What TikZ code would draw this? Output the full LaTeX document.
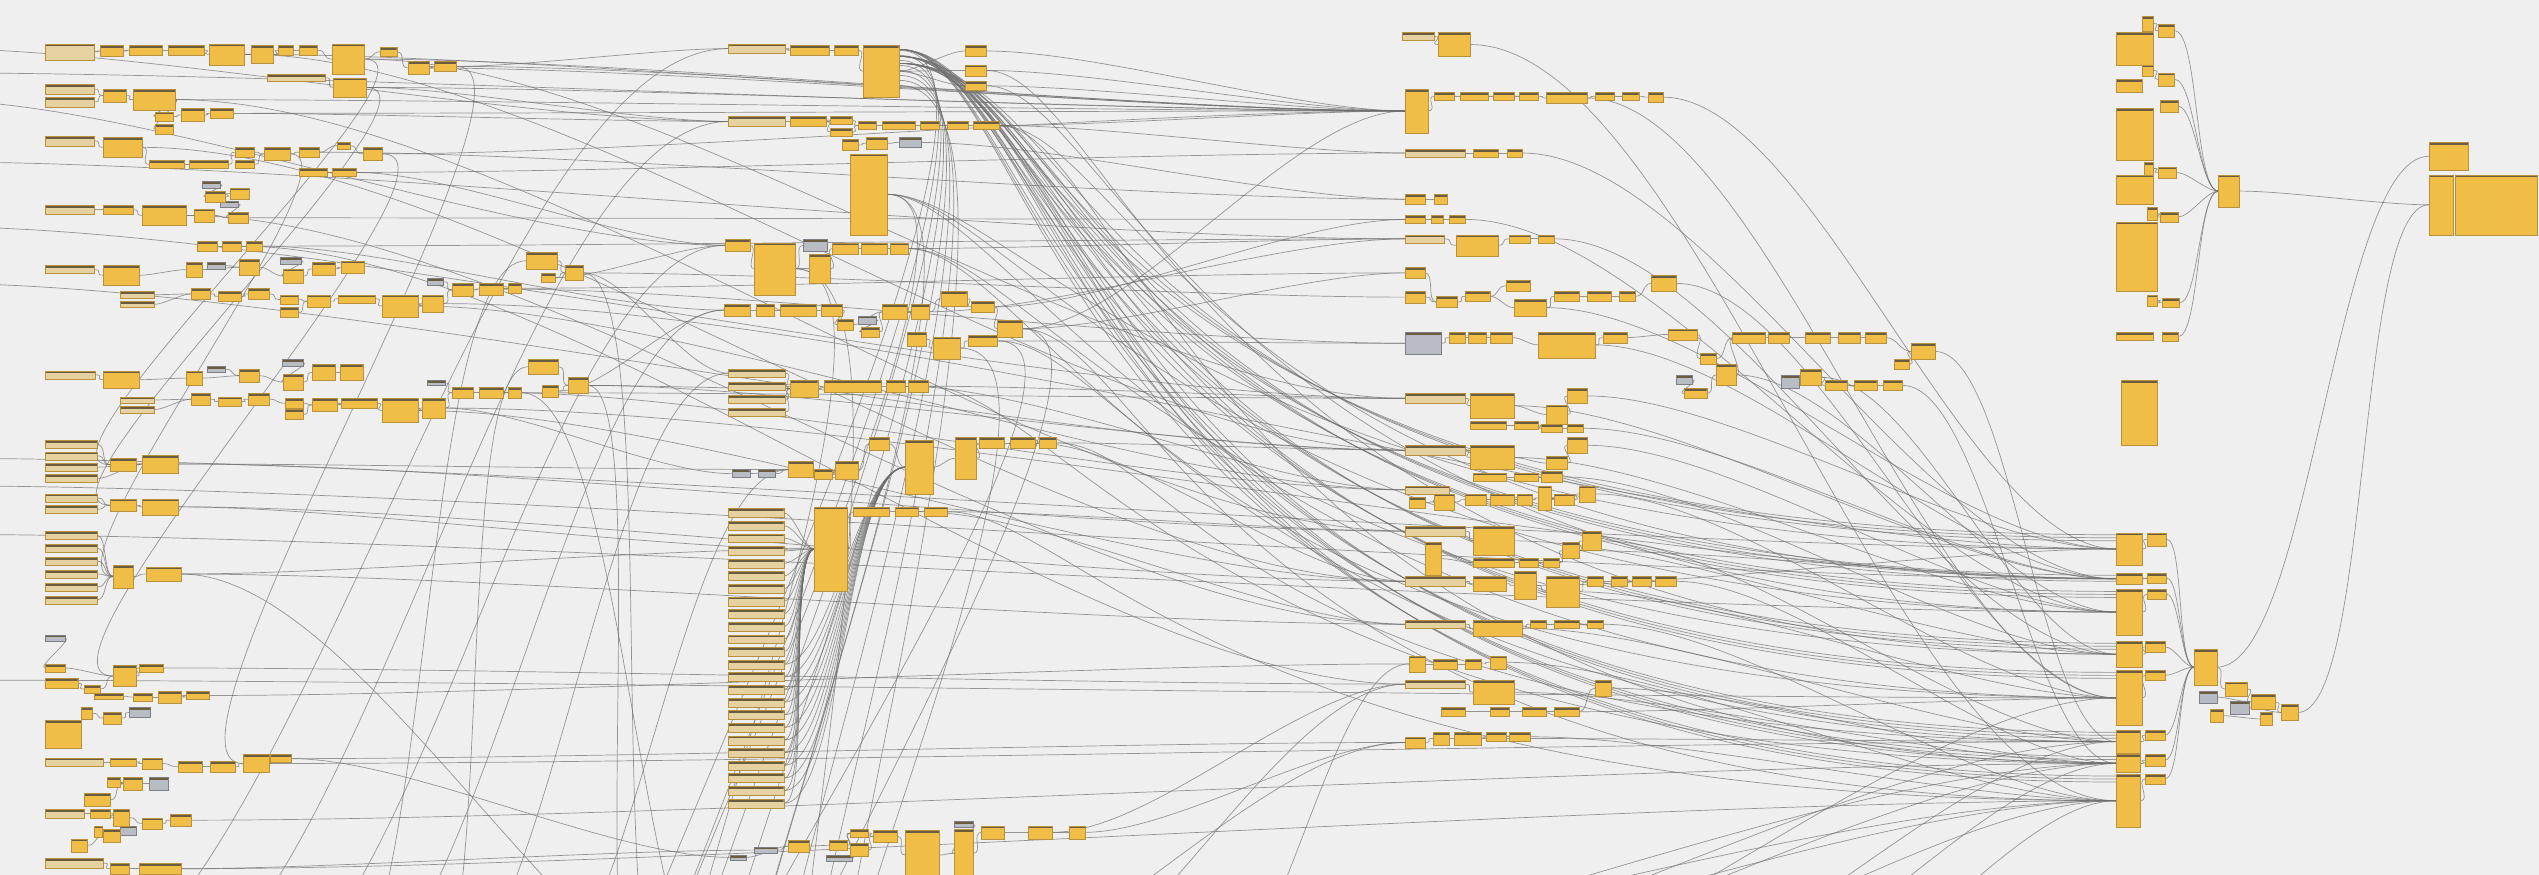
\documentclass[tikz,border=0pt]{standalone}
\usetikzlibrary{backgrounds,calc}
\definecolor{canvas}{HTML}{EFEFEF}
\definecolor{nodefill}{HTML}{F0BE46}
\definecolor{nodehead}{HTML}{695C41}
\definecolor{nodeedge}{HTML}{B8913A}
\definecolor{inpfill}{HTML}{E6D2A0}
\definecolor{gryfill}{HTML}{B9BCC3}
\definecolor{gryedge}{HTML}{7C7F86}
\definecolor{wirecol}{HTML}{6E6E6E}
\tikzset{
  dyn/.style={draw=nodeedge, fill=nodefill, line width=0.4pt, inner sep=0pt, outer sep=0pt, anchor=north west,
    path picture={\fill[nodehead] (path picture bounding box.north west) rectangle ([yshift=-2.6pt]path picture bounding box.north east);}},
  inp/.style={dyn, fill=inpfill},
  gry/.style={dyn, fill=gryfill, draw=gryedge},
  wire/.style={draw=wirecol, line width=0.7pt, opacity=0.7},
  link/.style={to path={let \p1=(\tikztostart), \p2=(\tikztotarget), \n1={max(10,0.25*abs(\x2-\x1)+0.08*abs(\y2-\y1))} in .. controls +(\n1,0) and +(-\n1,0) .. (\tikztotarget)}}
}
\begin{document}
\begin{tikzpicture}[x=1.619pt, y=-1.619pt]
\useasboundingbox (0,0) rectangle (1568,540);

% left block
\foreach \n/\x/\y/\w/\h in {a1/28/27/30/10, a13/165/46/36/4, a15/28/52/30/6, a16/28/60/30/6, a23/28/84/30/6, a38/28/127/30/5,
  a47/28/164/30/5, a49/74/180/21/4, a50/74/186/21/4, a74/28/229/31/5, a76/74/245/21/4, a77/74/251/21/4,
  a101/28/272/32/5, a102/28/279/32/5, a103/28/286/32/5, a104/28/293/32/5, a107/28/305/32/5, a108/28/312/32/5,
  a111/28/328/32/5, a112/28/336/32/5, a113/28/344/32/5, a114/28/352/32/5, a115/28/360/32/5, a116/28/368/32/5,
  a133/28/468/36/5, a144/28/500/24/5, a153/28/530/36/6}
  \node[inp, minimum width=\w*1.619pt, minimum height=\h*1.619pt] (\n) at (\x,\y) {};
\foreach \n/\x/\y/\w/\h in {a35/125/112/11/4, a42/136/124/11/4, a51/173/159/13/4, a61/264/172/10/4, a69/128/162/11/4,
  a78/174/222/13/4, a88/264/235/11/3, a96/128/226/11/4, a119/28/392/12/4, a131/80/437/13/6, a142/92/480/12/8, a151/74/510/10/6}
  \node[gry, minimum width=\w*1.619pt, minimum height=\h*1.619pt] (\n) at (\x,\y) {};
\foreach \n/\x/\y/\w/\h in {a2/62/28/14/7, a3/80/28/20/6, a4/104/28/22/6, a5/129/27/22/13, a6/155/28/14/11, a7/172/28/9/6,
  a8/185/28/11/6, a9/205/27/20/19, a10/235/29/10/6, a11/252/38/13/8, a12/268/38/14/6, a14/206/48/20/12,
  a17/64/55/14/8, a18/82/55/26/13, a19/96/69/11/6, a20/96/77/11/6, a21/112/67/14/8, a22/130/67/14/6,
  a24/64/85/24/12, a25/92/99/22/5, a26/117/99/24/5, a27/145/91/12/6, a28/145/99/12/5, a29/163/91/16/8,
  a30/185/91/12/6, a31/208/88/8/4, a32/224/91/12/8, a33/185/104/17/5, a34/205/104/15/5, a36/127/118/12/7,
  a37/142/116/12/7, a39/64/127/18/5, a40/88/127/27/12, a41/120/129/12/8, a43/141/131/12/7, a44/122/149/12/6,
  a45/137/149/12/6, a46/152/149/10/6, a48/64/164/22/12, a52/175/166/12/9, a53/193/162/14/8, a54/211/161/14/8,
  a55/173/182/11/6, a56/173/190/11/6, a57/190/182/14/8, a58/209/182/23/5, a59/236/182/22/14, a60/261/182/13/11,
  a62/279/175/13/8, a63/296/175/15/7, a64/314/175/8/6, a65/325/156/19/10, a66/334/169/9/5, a67/349/164/11/9,
  a68/115/162/10/9, a70/148/160/12/10, a71/118/178/12/7, a72/135/180/14/6, a73/153/178/13/7,
  a75/64/229/22/11, a79/175/231/12/10, a80/193/225/14/10, a81/210/225/14/10, a82/176/246/11/6, a83/176/253/11/6,
  a84/193/246/15/8, a85/211/246/22/6, a86/236/246/22/15, a87/261/246/14/12, a89/279/239/13/7, a90/296/239/15/7,
  a91/314/239/8/7, a92/326/222/19/9, a93/335/238/10/7, a94/351/233/12/10, a95/115/229/10/9, a97/148/228/12/8,
  a98/118/243/12/7, a99/135/245/14/6, a100/153/243/13/7, a105/68/283/16/8, a106/88/281/22/11,
  a109/68/308/16/8, a110/88/308/22/10, a117/70/349/12/14, a118/90/350/22/9,
  a120/28/410/12/5, a121/28/419/20/6, a122/52/423/10/5, a123/70/411/14/13, a124/86/410/15/5,
  a125/58/428/18/4, a126/82/428/12/5, a127/98/427/14/7, a128/115/427/14/5, a129/50/437/7/7, a130/64/440/11/7,
  a132/28/445/22/17, a134/68/468/16/5, a135/88/468/12/7, a136/110/470/15/7, a137/130/470/15/7, a138/150/466/16/11,
  a139/167/466/13/5, a140/66/480/8/6, a141/76/480/12/8, a143/52/490/16/8, a145/56/500/12/5, a146/70/500/10/10,
  a147/88/505/12/7, a148/105/503/13/7, a149/58/510/5/7, a150/64/512/10/8, a152/44/518/10/8, a154/68/533/12/7,
  a155/86/533/26/7}
  \node[dyn, minimum width=\w*1.619pt, minimum height=\h*1.619pt] (\n) at (\x,\y) {};

% centre block
\foreach \n/\x/\y/\w/\h in {b1/450/27/35/6, b8/450/72/35/6, b43/450/228/35/5, b44/450/236/35/5, b45/450/244/35/5, b46/450/252/35/5}
  \node[inp, minimum width=\w*1.619pt, minimum height=\h*1.619pt] (\n) at (\x,\y) {};
\foreach \i in {0,...,23}
  \node[inp, minimum width=34*1.619pt, minimum height=5.5*1.619pt] (q\i) at (450,{314+\i*7.8}) {};
\foreach \n/\x/\y/\w/\h in {b19/555/85/14/6, b23/496/148/15/7, b33/530/195/11/5, b51/452/290/11/5, b52/468/290/11/5,
  b68/451/528/10/3, b69/466/523/14/4, b72/510/528/16/4, b77/589/507/12/4}
  \node[gry, minimum width=\w*1.619pt, minimum height=\h*1.619pt] (\n) at (\x,\y) {};
\foreach \n/\x/\y/\w/\h in {b2/488/28/24/6, b3/515/28/15/6, b4/533/28/22/32, b5/596/28/13/7, b6/596/40/13/7, b7/596/50/13/6,
  b9/488/72/22/6, b10/513/72/13/5, b11/513/79/13/5, b12/530/75/11/5, b13/545/75/20/5, b14/568/75/12/5,
  b15/585/75/13/5, b16/601/75/16/5, b17/520/86/10/7, b18/535/85/13/7, b20/525/95/23/50, b21/448/148/15/7,
  b22/466/150/25/32, b24/500/157/13/18, b25/514/150/16/7, b26/532/150/16/7, b27/550/150/11/7, b28/447/188/16/7,
  b29/467/188/11/7, b30/482/188/22/7, b31/507/188/13/7, b32/517/197/10/7, b34/532/202/11/6, b35/545/188/15/9,
  b36/563/188/11/9, b37/581/180/16/9, b38/600/186/14/7, b39/616/198/15/10, b40/560/205/12/9, b41/576/208/17/14,
  b42/598/207/18/7, b47/488/235/17/10, b48/509/235/35/7, b49/547/235/12/7, b50/561/235/12/7, b53/487/285/15/10,
  b54/503/290/11/6, b55/516/285/14/11, b56/537/270/12/8, b57/559/272/17/33, b58/590/270/13/26, b60/605/270/15/7,
  b61/624/270/15/7, b62/642/270/10/7, b63/503/313/20/52, b65/527/313/22/6, b66/553/313/14/6, b67/571/313/14/6,
  b70/487/519/13/7, b71/512/519/11/6, b73/525/512/11/5, b74/525/521/11/8, b75/539/513/15/7, b76/559/513/21/30,
  b78/589/512/12/30, b79/606/510/14/8, b80/635/510/15/8, b81/660/510/10/8}
  \node[dyn, minimum width=\w*1.619pt, minimum height=\h*1.619pt] (\n) at (\x,\y) {};

% right-centre block
\foreach \n/\x/\y/\w/\h in {c1/866/20/20/5, c12/868/92/37/5, c20/868/145/24/5, c57/868/243/37/6, c65/868/275/37/6,
  c72/868/300/27/5, c81/868/325/37/6, c89/868/356/37/6, c97/868/383/37/5, c106/868/420/37/5}
  \node[inp, minimum width=\w*1.619pt, minimum height=\h*1.619pt] (\n) at (\x,\y) {};
\foreach \n/\x/\y/\w/\h in {c34/868/205/22/14, c42/1035/232/10/5, c52/1100/232/11/8}
  \node[gry, minimum width=\w*1.619pt, minimum height=\h*1.619pt] (\n) at (\x,\y) {};
\foreach \n/\x/\y/\w/\h in {c2/888/20/20/15, c3/868/55/14/27, c4/886/57/12/5, c5/902/57/17/5, c6/922/57/13/5, c7/938/57/12/5,
  c8/955/57/25/7, c9/985/57/12/5, c10/1002/57/10/5, c11/1018/57/9/6, c13/910/92/15/5, c14/931/92/9/5,
  c15/868/120/12/6, c16/886/120/8/6, c17/868/133/12/5, c18/884/133/7/5, c19/895/133/10/5, c21/899/145/26/13,
  c22/932/145/13/5, c23/950/145/10/5, c24/868/165/12/7, c25/868/180/12/7, c26/887/183/13/7, c27/905/180/15/6,
  c28/930/173/15/7, c29/935/185/20/10, c30/960/180/15/6, c31/980/180/15/6, c32/1000/180/10/6, c33/1020/170/15/10,
  c35/895/205/10/7, c36/907/205/11/7, c37/920/205/14/7, c38/950/205/35/16, c39/990/205/15/7, c40/1030/203/18/7,
  c41/1050/218/10/7, c43/1040/240/14/6, c44/1060/225/12/13, c45/1070/205/20/7, c46/1092/205/13/7, c47/1115/205/15/7,
  c48/1135/205/14/7, c49/1152/205/13/7, c50/1180/212/15/10, c51/1170/222/9/6, c53/1112/228/13/10, c54/1127/235/14/6,
  c55/1145/235/14/6, c56/1163/235/12/6, c58/908/243/27/15, c59/955/250/13/12, c60/968/240/12/9, c61/908/260/22/5,
  c62/935/260/15/5, c63/952/262/13/5, c64/968/262/10/5, c66/908/275/27/15, c67/955/282/13/8, c68/968/270/12/10,
  c69/910/292/20/5, c70/935/292/15/5, c71/952/291/13/7, c73/870/307/10/7, c74/886/305/12/10, c75/905/305/13/7,
  c76/920/305/15/7, c77/937/305/9/7, c78/950/300/8/15, c79/960/305/12/7, c80/975/300/10/10, c82/910/325/25/18,
  c83/880/335/10/20, c84/910/345/25/5, c85/938/345/12/5, c86/953/345/10/5, c87/965/335/10/10, c88/977/328/12/12,
  c90/910/356/20/9, c91/935/353/14/17, c92/955/356/20/19, c93/980/356/10/6, c94/995/356/10/6, c95/1008/356/12/6,
  c96/1022/356/13/6, c98/910/383/30/10, c99/945/383/10/5, c100/960/383/15/5, c101/980/383/10/5, c102/870/405/10/10,
  c103/885/407/15/6, c104/905/407/10/6, c105/920/405/10/8, c107/910/420/25/15, c108/890/437/15/5, c109/920/437/12/5,
  c110/940/437/15/5, c111/960/437/15/5, c112/985/420/10/10, c113/868/455/12/7, c114/885/452/10/8, c115/898/452/17/8,
  c116/918/452/12/6, c117/932/452/13/6}
  \node[dyn, minimum width=\w*1.619pt, minimum height=\h*1.619pt] (\n) at (\x,\y) {};

% right block
\foreach \n/\x/\y/\w/\h in {d1/1323/10/7/9, d2/1333/15/10/8, d3/1307/20/23/20, d4/1323/40/7/7, d5/1333/45/10/8,
  d6/1307/49/16/8, d7/1334/62/11/7, d8/1307/67/23/32, d9/1324/100/6/8, d10/1333/103/11/7, d11/1307/108/23/18,
  d12/1326/128/6/8, d13/1334/131/11/6, d14/1307/137/25/43, d15/1326/182/6/7, d16/1335/184/11/6, d17/1307/205/23/5,
  d18/1335/205/10/6, d19/1310/235/22/40, d20/1370/108/13/20, d21/1500/88/24/17, d22/1500/108/15/37, d23/1516/108/51/37,
  e1/1307/329/16/20, e2/1326/329/12/8, e3/1307/354/16/7, e4/1326/354/12/6, e5/1307/364/16/28, e6/1326/364/12/6,
  e7/1307/396/16/16, e8/1325/396/12/7, e9/1307/414/16/34, e10/1325/414/12/6, e11/1307/451/15/14, e12/1325/451/12/6,
  e13/1307/466/15/11, e14/1325/466/12/7, e15/1307/478/15/33, e16/1325/478/12/6, e17/1355/401/14/22, e18/1374/421/14/9,
  e21/1390/429/15/9, e22/1365/438/8/8, e23/1396/440/7/8, e24/1409/435/10/10}
  \node[dyn, minimum width=\w*1.619pt, minimum height=\h*1.619pt] (\n) at (\x,\y) {};
\foreach \n/\x/\y/\w/\h in {e19/1358/427/11/7, e20/1377/433/12/8}
  \node[gry, minimum width=\w*1.619pt, minimum height=\h*1.619pt] (\n) at (\x,\y) {};

% loose wire ends off the page
\foreach \k/\x in {1/380,2/400,3/420,4/440,5/460,6/480,7/500,8/520}
  \coordinate (zb\k) at (\x,640);
\foreach \k/\x in {1/560,2/620,3/680,4/740,5/800,6/860,7/920,8/980,9/1040,10/1100}
  \coordinate (zr\k) at (\x,620);
\foreach \k/\x in {1/20,2/80,3/140,4/200,5/260,6/320}
  \coordinate (zl\k) at (\x,620);
\foreach \k/\y in {1/30,2/45,3/62,4/100,5/140,6/175,7/283,8/300,9/330,10/420}
  \coordinate (zw\k) at (-40,\y);

\begin{scope}[on background layer]
\fill[canvas] (-10,-10) rectangle (1580,560);

% short links inside each row
\foreach \s/\t in {a1/a2,a2/a3,a3/a4,a4/a5,a5/a6,a6/a7,a7/a8,a8/a9,a9/a10,a10/a11,a11/a12,a13/a14,a15/a17,a16/a17,a17/a18,
  a18/a19,a18/a20,a19/a21,a21/a22,a23/a24,a24/a25,a25/a26,a26/a27,a27/a29,a28/a29,a29/a30,a30/a31,a31/a32,a33/a34,
  a35/a36,a36/a37,a38/a39,a39/a40,a40/a41,a41/a43,a42/a43,a44/a45,a45/a46,a47/a48,a49/a71,a50/a71,a48/a68,a68/a70,
  a69/a70,a70/a52,a51/a52,a52/a53,a53/a54,a71/a72,a72/a73,a73/a55,a55/a57,a56/a57,a57/a58,a58/a59,a59/a60,a61/a62,
  a60/a62,a62/a63,a63/a64,a65/a67,a66/a67,a74/a75,a75/a95,a96/a97,a95/a97,a97/a79,a78/a79,a79/a80,a80/a81,a76/a98,
  a77/a98,a98/a99,a99/a100,a100/a82,a82/a84,a83/a84,a84/a85,a85/a86,a86/a87,a88/a89,a87/a89,a89/a90,a90/a91,a92/a94,
  a93/a94,a101/a105,a102/a105,a103/a106,a104/a106,a105/a106,a107/a109,a108/a109,a109/a110,a111/a117,a112/a117,
  a113/a117,a114/a117,a115/a117,a116/a117,a117/a118,a119/a120,a120/a123,a121/a122,a122/a123,a123/a124,a125/a126,
  a126/a127,a127/a128,a129/a130,a130/a131,a133/a134,a134/a135,a135/a136,a136/a137,a137/a138,a138/a139,a140/a141,
  a141/a142,a143/a141,a144/a145,a145/a146,a146/a147,a147/a148,a149/a150,a150/a151,a152/a150,a153/a154,a154/a155,
  b1/b2,b2/b3,b3/b4,b4/b5,b4/b6,b4/b7,b8/b9,b9/b10,b9/b11,b10/b12,b11/b12,b12/b13,b13/b14,b14/b15,b15/b16,b17/b18,
  b18/b19,b21/b22,b22/b23,b22/b24,b24/b25,b25/b26,b26/b27,b28/b29,b29/b30,b30/b31,b31/b32,b32/b35,b33/b34,b34/b35,
  b35/b36,b36/b37,b37/b38,b38/b39,b40/b41,b41/b42,b43/b47,b44/b47,b45/b47,b46/b47,b47/b48,b48/b49,b49/b50,b51/b53,
  b52/b53,b53/b54,b54/b55,b55/b56,b56/b57,b57/b58,b58/b60,b60/b61,b61/b62,b63/b65,b65/b66,b66/b67,b68/b70,b69/b70,
  b70/b71,b72/b73,b71/b73,b73/b75,b74/b75,b75/b76,b76/b78,b77/b78,b78/b79,b79/b80,b80/b81,
  c1/c2,c3/c4,c4/c5,c5/c6,c6/c7,c7/c8,c8/c9,c9/c10,c10/c11,c12/c13,c13/c14,c15/c16,c17/c18,c18/c19,c20/c21,c21/c22,
  c22/c23,c24/c26,c25/c26,c26/c27,c27/c28,c27/c29,c29/c30,c30/c31,c31/c32,c32/c33,c34/c35,c35/c36,c36/c37,c37/c38,
  c38/c39,c39/c40,c40/c41,c42/c43,c43/c44,c41/c45,c44/c45,c45/c46,c46/c47,c47/c48,c48/c49,c49/c50,c51/c50,c52/c53,
  c53/c54,c54/c55,c55/c56,c57/c58,c58/c59,c59/c60,c61/c62,c62/c63,c63/c64,c65/c66,c66/c67,c67/c68,c69/c70,c70/c71,
  c72/c74,c73/c74,c74/c75,c75/c76,c76/c77,c77/c78,c78/c79,c79/c80,c81/c82,c83/c84,c84/c85,c85/c86,c86/c87,c87/c88,
  c89/c90,c90/c91,c91/c92,c92/c93,c93/c94,c94/c95,c95/c96,c97/c98,c98/c99,c99/c100,c100/c101,c102/c103,c103/c104,
  c104/c105,c106/c107,c108/c109,c109/c110,c110/c111,c111/c112,c113/c114,c114/c115,c115/c116,c116/c117,
  d1/d2,d4/d5,d9/d10,d12/d13,d15/d16,d2/d20,d5/d20,d7/d20,d10/d20,d13/d20,d16/d20,d18/d20,d20/d22,
  e1/e2,e3/e4,e5/e6,e7/e8,e9/e10,e11/e12,e13/e14,e15/e16,e2/e17,e4/e17,e6/e17,e8/e17,e10/e17,e12/e17,e14/e17,
  e16/e17,e17/e18,e18/e21,e19/e21,e20/e24,e21/e24,e22/e23,e17/d21,e24/d22}
  \draw[wire] (\s.east) to[link] (\t.west);

% long links across the sheet
\foreach \s/\t in {a12/c3,a14/c3,a11/c3,a22/c3,a32/c3,a9/c3,a5/c3,a18/c3,a34/c12,a30/c15,a43/c17,a46/c20,a64/c24,
  a67/c25,a91/c57,a94/c65,a63/c34,a90/c72,a106/c81,a110/c89,a118/c97,a124/c106,a139/c113,a128/c102,a9/c57,a5/c65,
  a18/c81,a24/c89,a40/c97,a45/c106,a59/c72,a86/c89,a60/e1,a87/e3,a155/e15,a148/e13,a138/e11,
  a12/b1,a14/b8,a22/b8,a34/b21,a46/b28,a67/b43,a94/b47,a87/b51,a106/b53,a110/b63,a118/b63,a139/b68,a155/b69,
  a66/b21,a93/b28,a9/a105,a14/a109,a29/a117,a32/a123,a12/a138,a94/zb2,a67/zb3,a91/zb5,a118/zb6,
  b7/c3,b6/c3,b5/c3,b16/c3,b16/c12,b19/c15,b27/c20,b39/c24,b42/c34,b50/c57,b62/c65,b67/c81,b81/c113,b39/c3,b38/c17,
  b36/c20,b49/c72,b61/c89,b66/c97,b80/c106,
  c11/e1,c14/e3,c19/e5,c23/e7,c33/e9,c50/e11,c56/e13,c60/e1,c64/e3,c68/e5,c71/e7,c80/e9,c88/e11,c96/e13,c101/e15,
  c105/e15,c112/e13,c117/e15,c58/e3,c66/e5,c82/e7,c92/e9,c98/e11,c107/e13,c2/e15,c8/e9,c29/e1,c38/e3,c44/e5,c53/e7,
  c91/e1,c87/e3,c111/e9,c115/e11,
  zr1/e15,zr2/e13,zr3/e15,zr4/e11,zr5/e13,zr6/e9,zr7/e15,zr8/e11,zr9/e13,zr10/e15,zr1/c113,zr2/c106,zr4/c102,
  zl1/b1,zl2/b8,zl3/b21,zl4/b28,zl5/b43,zl6/b53,zl4/a65,zl5/a92,
  zw1/b8,zw2/c3,zw3/b21,zw4/c20,zw5/c57,zw6/c65,zw7/e1,zw8/e3,zw9/e5,zw10/e9}
  \draw[wire] (\s.east) to[link] (\t.west);

% stacked inputs into the tall nodes
\foreach \i in {0,...,23}
  \draw[wire] (q\i.east) to[link] (b63.west);
\foreach \i in {12,...,23}
  \draw[wire] (q\i.east) to[link] (b57.west);

% the heavy bundle from the top centre node
\foreach \t in {e1,e3,e5,e7,e9,e11,e13,e15} {
  \foreach \k in {0,1,2} {
    \draw[wire] ([yshift=-4pt-\k*7pt]b4.north east) .. controls +(90+\k*20,0) and +(-650,0) .. ([yshift=-2pt-\k*3pt]\t.north west);
  }
}
\foreach \s/\t in {b20/e1,b20/e5,b20/e9,b16/e3,b16/e13,b27/e7,b27/e11,b39/e15,b42/e9,b50/e13,b62/e11,b67/e15,b7/e5,b6/e7}
  \draw[wire] (\s.east) .. controls +(80,0) and +(-550,0) .. (\t.west);
\foreach \k in {1,...,8}
  \draw[wire] ([yshift=-\k*5pt]b4.north east) .. controls +(110,0) and +(-30,0) .. (zb\k);
\foreach \s/\t in {b20/zb2,b20/zb5,b22/zb3,b22/zb7,b39/zb6,b41/zb8,b42/zb4}
  \draw[wire] (\s.east) .. controls +(90,0) and +(-30,0) .. (\t);
\end{scope}
\end{tikzpicture}
\end{document}
